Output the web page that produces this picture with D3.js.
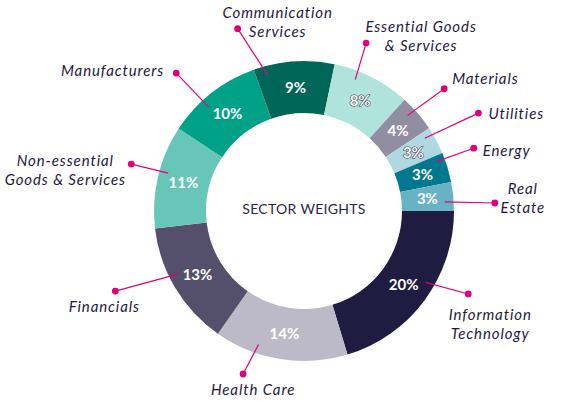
<!DOCTYPE html>
<html>
<head>
<meta charset="utf-8">
<script src="https://cdn.jsdelivr.net/npm/d3@7"></script>
<style>
  body { margin: 0; background: #fff; }
  svg { display: block; }
  .lbl { font-family: Lato, sans-serif; font-style: italic; font-size: 15px; letter-spacing: 0.9px; fill: #1f1a3e; }
  .pct { font-family: Lato, sans-serif; font-weight: 700; font-size: 15px; fill: #fff; }
</style>
</head>
<body>
<div id="chart"></div>
<script>
// sectors, clockwise from 3 o'clock
const sectors = ['Information Technology', 'Health Care', 'Financials', 'Non-essential Goods & Services',
  'Manufacturers', 'Communication Services', 'Essential Goods & Services', 'Materials', 'Utilities', 'Energy', 'Real Estate'];
const weights = [20.3, 14.4, 13.4, 11.1, 10.3, 8.7, 8.4, 4.0, 3.0, 3.2, 3.1];
const colors = ['#201b40', '#bcbac7', '#54506b', '#67c6b7', '#00a287', '#006657', '#b0e3dc', '#928ea1', '#afd8e0', '#00788f', '#67b3c5'];
const labelLines = [['Information', 'Technology'], ['Health Care'], ['Financials'], ['Non-essential', 'Goods & Services'],
  ['Manufacturers'], ['Communication', 'Services'], ['Essential Goods', '& Services'], ['Materials'], ['Utilities'], ['Energy'], ['Real', 'Estate']];

// leader layout: angle where line starts in ring, dot angle/radius, text offset from dot
const leaderStart = [120.4, 198.8, 243.4, 285.6, 317.5, 345, 21.3, 47.3, 58.9, 69.5, 86.3];
const dotAngle = [116.8, 200.5, 247, 285.2, 317.2, 340, 20.3, 48.9, 60.7, 69.7, 87.6];
const dotRadius = [184, 174, 205, 179, 188, 194, 179, 186, 200, 181, 191];
const textDx = [22, 10, -11, -66, -12, 40, 55, 8, 10, 9, 28];
const textDy = [21, 16, 16, -3, -2, -16, -16, -10, 1, 3, -14];
const textAnchor = ['middle', 'middle', 'middle', 'middle', 'end', 'middle', 'middle', 'start', 'start', 'start', 'middle'];
const outlined = [false, false, false, false, false, false, true, false, true, false, false];

const width = 573, height = 418;
const cx = 304, cy = 211;
const outerR = 150, innerR = 98, leaderR = 141;
const magenta = '#e2007a';

const svg = d3.select('#chart').append('svg')
  .attr('width', width)
  .attr('height', height);

const g = svg.append('g').attr('transform', `translate(${cx},${cy})`);

const data = sectors.map((s, i) => ({ name: s, value: weights[i], i: i }));

const pie = d3.pie()
  .sort(null)
  .value(d => d.value)
  .startAngle(Math.PI / 2)
  .endAngle(Math.PI / 2 + 2 * Math.PI);

const arc = d3.arc().innerRadius(innerR).outerRadius(outerR);
const arcs = pie(data);

g.selectAll('path.slice')
  .data(arcs)
  .enter().append('path')
  .attr('class', 'slice')
  .attr('d', arc)
  .attr('fill', d => colors[d.data.i]);

const polar = (deg, r) => {
  const a = deg * Math.PI / 180;
  return [r * Math.sin(a), -r * Math.cos(a)];
};

// leader lines
arcs.forEach(d => {
  const i = d.data.i;
  const p0 = polar(leaderStart[i], leaderR);
  const p1 = polar(dotAngle[i], dotRadius[i]);
  g.append('line')
    .attr('x1', p0[0]).attr('y1', p0[1])
    .attr('x2', p1[0]).attr('y2', p1[1])
    .attr('stroke', magenta)
    .attr('stroke-width', 1.2);
  g.append('circle')
    .attr('cx', p1[0]).attr('cy', p1[1])
    .attr('r', 3.4)
    .attr('fill', magenta);

  const t = g.append('text')
    .attr('class', 'lbl')
    .attr('text-anchor', textAnchor[i]);
  labelLines[i].forEach((line, k) => {
    t.append('tspan')
      .attr('x', p1[0] + textDx[i])
      .attr('y', p1[1] + textDy[i] + k * 19)
      .attr('dy', '0.35em')
      .text(line);
  });
});

// percentage labels
g.selectAll('text.pct')
  .data(arcs)
  .enter().append('text')
  .attr('class', 'pct')
  .attr('transform', d => `translate(${arc.centroid(d)})`)
  .attr('text-anchor', 'middle')
  .attr('dy', '0.36em')
  .attr('stroke', d => outlined[d.data.i] ? '#3a3550' : 'none')
  .attr('stroke-width', 1.1)
  .attr('paint-order', 'stroke')
  .text(d => Math.round(d.data.value) + '%');

g.append('text')
  .attr('text-anchor', 'middle')
  .attr('y', -2)
  .attr('dy', '0.35em')
  .style('font-family', 'Lato, sans-serif')
  .style('font-size', '14px')
  .style('letter-spacing', '0.3px')
  .style('fill', '#2b2647')
  .text('SECTOR WEIGHTS');
</script>
</body>
</html>
